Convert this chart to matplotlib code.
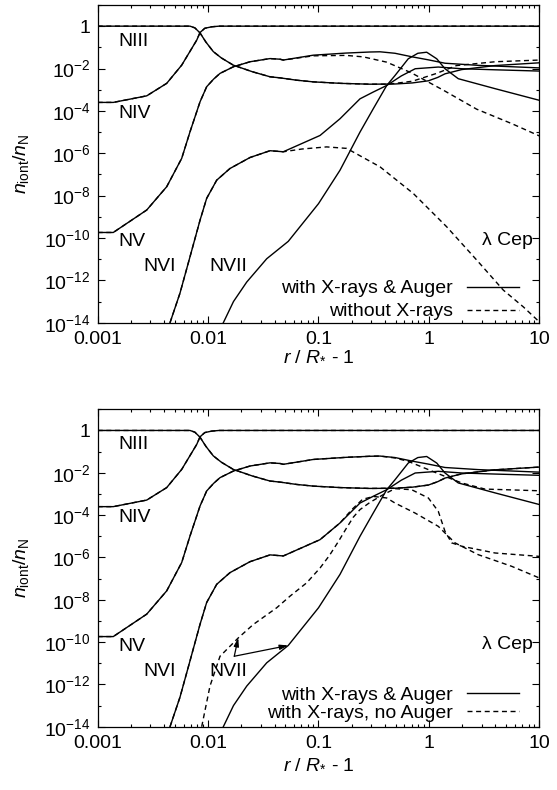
import numpy as np
import matplotlib.pyplot as plt
from matplotlib.ticker import FixedLocator, FuncFormatter, LogLocator, NullFormatter

plt.rcParams["font.family"] = ["Liberation Sans", "DejaVu Sans"]
plt.rcParams["mathtext.fontset"] = "custom"
plt.rcParams["mathtext.rm"] = "Liberation Sans"
plt.rcParams["mathtext.it"] = "Liberation Sans:italic"
plt.rcParams["mathtext.bf"] = "Liberation Sans:bold"

# All values below are log10(r/R* - 1) and log10(n_ion/n_N).

# --- with X-rays & Auger (solid, same in both panels) ---
niii_x = [-3.0, -2.164, -2.12, -2.073, -2.02, -1.953, -1.88, -1.772, -1.6, -1.439, -1.349, -1.2,
          -1.047, -0.8, -0.534, -0.307, -0.15, -0.005, 0.08, 0.146, 0.297, 0.599, 1.0]
niii_y = [0.0, 0.0, -0.08, -0.32, -0.75, -1.20, -1.50, -1.84, -2.15, -2.39, -2.44, -2.55,
          -2.63, -2.70, -2.74, -2.73, -2.68, -2.58, -2.42, -2.25, -2.05, -1.86, -1.73]

niv_x = [-3.0, -2.859, -2.556, -2.375, -2.239, -2.103, -2.073, -2.03, -1.967, -1.9, 1.0]
niv_y = [-3.6, -3.6, -3.29, -2.70, -1.84, -0.66, -0.30, -0.10, -0.03, 0.0, 0.0]

nv_x = [-3.0, -2.859, -2.556, -2.375, -2.239, -2.164, -2.073, -2.013, -1.95, -1.892, -1.772,
        -1.62, -1.439, -1.349, -1.319, -1.047, -0.75, -0.534, -0.443, -0.307, -0.15, -0.005,
        0.146, 0.447, 1.0]
nv_y = [-9.74, -9.74, -8.68, -7.58, -6.24, -4.99, -3.57, -2.86, -2.50, -2.23, -1.92,
        -1.68, -1.53, -1.56, -1.60, -1.37, -1.27, -1.22, -1.21, -1.28, -1.45, -1.59,
        -1.75, -1.85, -1.97]

nvi_x = [-2.345, -2.255, -2.164, -2.073, -2.013, -1.922, -1.802, -1.62, -1.439, -1.319, -0.986,
         -0.805, -0.624, -0.504, -0.382, -0.25, -0.124, 0.085, 0.297, 0.599, 1.0]
nvi_y = [-14.0, -12.61, -10.89, -9.16, -8.13, -7.27, -6.72, -6.20, -5.88, -5.93, -5.16,
         -4.37, -3.43, -3.11, -2.80, -2.35, -2.01, -1.93, -2.01, -2.06, -2.12]

nvii_x = [-1.862, -1.77, -1.65, -1.469, -1.274, -1.0, -0.805, -0.624, -0.504, -0.382, -0.307,
          -0.187, -0.1, -0.02, 0.071, 0.146, 0.266, 0.599, 1.0]
nvii_y = [-14.0, -13.0, -12.08, -10.98, -10.16, -8.38, -6.8, -5.0, -3.9, -2.80, -2.33,
          -1.54, -1.28, -1.23, -1.54, -2.01, -2.48, -2.95, -3.50]

# --- without X-rays (dashed, top panel) ---
niii_nox_x = [-3.0, -2.164, -2.12, -2.073, -2.02, -1.953, -1.88, -1.772, -1.6, -1.439, -1.349,
              -1.2, -1.047, -0.8, -0.534, -0.368, -0.15, 0.07, 0.25, 0.6, 1.0]
niii_nox_y = [0.0, 0.0, -0.08, -0.32, -0.75, -1.20, -1.50, -1.84, -2.15, -2.39, -2.44,
              -2.55, -2.63, -2.70, -2.74, -2.74, -2.60, -2.23, -1.86, -1.68, -1.60]

nv_nox_x = [-3.0, -2.859, -2.556, -2.375, -2.239, -2.164, -2.073, -2.013, -1.95, -1.892, -1.772,
            -1.62, -1.439, -1.349, -1.319, -1.047, -0.75, -0.594, -0.382, -0.16, 0.13, 0.433,
            0.75, 1.0]
nv_nox_y = [-9.74, -9.74, -8.68, -7.58, -6.24, -4.99, -3.57, -2.86, -2.50, -2.23, -1.92,
            -1.68, -1.53, -1.56, -1.60, -1.40, -1.38, -1.45, -1.70, -2.20, -3.02, -3.92,
            -4.60, -5.18]

nvi_nox_x = [-2.345, -2.255, -2.164, -2.073, -2.013, -1.922, -1.802, -1.62, -1.439, -1.319,
             -1.15, -0.926, -0.745, -0.443, -0.141, 0.161, 0.433, 0.674, 0.855, 1.0]
nvi_nox_y = [-14.0, -12.61, -10.89, -9.16, -8.13, -7.27, -6.72, -6.20, -5.88, -5.93,
             -5.80, -5.70, -5.77, -6.64, -7.90, -9.47, -11.04, -12.46, -13.25, -13.96]

# --- with X-rays, no Auger (dashed, bottom panel) ---
nv_noa_x = [-3.0, -2.859, -2.556, -2.375, -2.239, -2.164, -2.073, -2.013, -1.95, -1.892, -1.772,
            -1.62, -1.439, -1.349, -1.319, -1.047, -0.75, -0.534, -0.443, -0.307, -0.187,
            -0.005, 0.146, 0.297, 0.508, 1.0]
nv_noa_y = [-9.74, -9.74, -8.68, -7.58, -6.24, -4.99, -3.57, -2.86, -2.50, -2.23, -1.92,
            -1.68, -1.53, -1.56, -1.60, -1.37, -1.27, -1.22, -1.21, -1.30, -1.46,
            -1.85, -2.17, -2.48, -2.77, -2.85]

nvi_noa_x = [-2.345, -2.255, -2.164, -2.073, -2.013, -1.922, -1.802, -1.62, -1.439, -1.319,
             -0.986, -0.805, -0.7, -0.6, -0.5, -0.382, -0.307, -0.126, 0.085, 0.236, 0.447,
             0.75, 1.0]
nvi_noa_y = [-14.0, -12.61, -10.89, -9.16, -8.13, -7.27, -6.72, -6.20, -5.88, -5.93,
             -5.16, -4.37, -3.75, -3.25, -3.12, -3.19, -3.43, -3.90, -4.53, -5.31, -5.87,
             -6.42, -6.97]

nvii_noa_x = [-2.058, -1.983, -1.892, -1.726, -1.591, -1.379, -1.258, -1.107, -0.986, -0.9,
              -0.82, -0.745, -0.685, -0.624, -0.534, -0.413, -0.307, -0.156, -0.005, 0.085,
              0.146, 0.206, 0.297, 0.599, 1.0]
nvii_noa_y = [-14.0, -12.08, -10.67, -9.80, -9.17, -8.38, -7.83, -7.20, -6.50, -5.90,
              -5.25, -4.60, -4.10, -3.74, -3.40, -3.03, -2.75, -2.80, -3.19, -3.82,
              -4.77, -5.31, -5.47, -5.79, -5.95]

# arrow from the NVII label to both NVII curves (bottom panel)
arrow_tail = (-1.763, -10.67)
arrow_heads = [(-1.274, -10.16), (-1.727, -9.80)]

ion_names = ["NIII", "NIV", "NV", "NVI", "NVII"]
xticks = [0.001, 0.01, 0.1, 1, 10]
xticklabels = ["0.001", "0.01", "0.1", "1", "10"]

solid = [(niii_x, niii_y), (niv_x, niv_y), (nv_x, nv_y), (nvi_x, nvi_y), (nvii_x, nvii_y)]
dashed_top = [(niii_nox_x, niii_nox_y), (niv_x, niv_y), (nv_nox_x, nv_nox_y),
              (nvi_nox_x, nvi_nox_y)]
dashed_bot = [(niii_x, niii_y), (niv_x, niv_y), (nv_noa_x, nv_noa_y),
              (nvi_noa_x, nvi_noa_y), (nvii_noa_x, nvii_noa_y)]

FS = 14
DASH = (3.6, 2.6)


def fmt_y(v, pos):
    e = int(round(np.log10(v)))
    return "1" if e == 0 else r"$10^{%d}$" % e


def draw_panel(ax, dashed, dash_label, label_y, leg_y, leg_space, xlab_y):
    for x, y in solid:
        ax.plot(10 ** np.array(x), 10 ** np.array(y), color="k", lw=1.0)
    for x, y in dashed:
        ax.plot(10 ** np.array(x), 10 ** np.array(y), color="k", lw=1.0, dashes=DASH)

    ax.set_xscale("log")
    ax.set_yscale("log")
    ax.set_xlim(1e-3, 10)
    ax.set_ylim(1e-14, 10)

    ax.xaxis.set_major_locator(FixedLocator(xticks))
    ax.xaxis.set_major_formatter(FuncFormatter(lambda v, p: xticklabels[xticks.index(v)] if v in xticks else ""))
    ax.xaxis.set_minor_locator(LogLocator(base=10, subs=np.arange(2, 10)))
    ax.xaxis.set_minor_formatter(NullFormatter())
    ax.yaxis.set_major_locator(FixedLocator([10.0 ** e for e in range(-14, 1, 2)]))
    ax.yaxis.set_major_formatter(FuncFormatter(fmt_y))
    ax.yaxis.set_minor_locator(FixedLocator([10.0 ** e for e in range(-13, 2, 2)]))
    ax.yaxis.set_minor_formatter(NullFormatter())
    ax.tick_params(which="both", direction="in", top=True, right=True, width=0.8, labelsize=FS)
    ax.tick_params(which="major", length=5, pad=5)
    ax.tick_params(which="minor", length=2.5)
    ax.tick_params(axis="x", which="major", pad=6)
    for s in ax.spines.values():
        s.set_linewidth(0.9)

    ax.set_ylabel(r"$n_{\mathrm{iont}}/n_{\mathrm{N}}$", fontsize=FS)
    ax.yaxis.set_label_coords(-0.15, 0.5)
    ax.set_xlabel(r"$r$ / $R_{*}$ - 1", fontsize=FS)
    ax.xaxis.set_label_coords(0.5, xlab_y)

    # ion labels (axes fractions)
    pos = [(0.046, label_y[0]), (0.046, label_y[1]), (0.046, label_y[2]),
           (0.103, label_y[3]), (0.254, label_y[3])]
    for name, (px, py) in zip(ion_names, pos):
        ax.text(px, py, name, transform=ax.transAxes, fontsize=FS, va="center", ha="left")
    ax.text(0.986, 0.26, "λ Cep", transform=ax.transAxes, fontsize=FS, va="center", ha="right")

    h1, = ax.plot([], [], color="k", lw=1.0)
    h2, = ax.plot([], [], color="k", lw=1.0, dashes=DASH)
    ax.legend([h1, h2], ["with X-rays & Auger", dash_label], loc="lower right",
              bbox_to_anchor=(0.953, leg_y), frameon=False, markerfirst=False,
              fontsize=FS, handlelength=2.65, handletextpad=0.72, labelspacing=leg_space,
              borderpad=0, borderaxespad=0)


fig = plt.figure(figsize=(5.57, 7.90), dpi=100)
ax1 = fig.add_axes([0.1754, 0.5915, 0.7928, 0.4022])
ax2 = fig.add_axes([0.1754, 0.0801, 0.7928, 0.4018])

draw_panel(ax1, dashed_top, "without X-rays", [0.884, 0.657, 0.257, 0.178], 0.007, 0.28, -0.075)
draw_panel(ax2, dashed_bot, "with X-rays, no Auger", [0.888, 0.658, 0.252, 0.173], 0.016, 0.02, -0.09)

for hx, hy in arrow_heads:
    ax2.annotate("", xy=(10 ** hx, 10 ** hy), xytext=(10 ** arrow_tail[0], 10 ** arrow_tail[1]),
                 arrowprops=dict(arrowstyle="-|>,head_length=0.5,head_width=0.15",
                                 color="k", lw=0.9, shrinkA=0, shrinkB=0))

fig.savefig("out.png", dpi=100)
